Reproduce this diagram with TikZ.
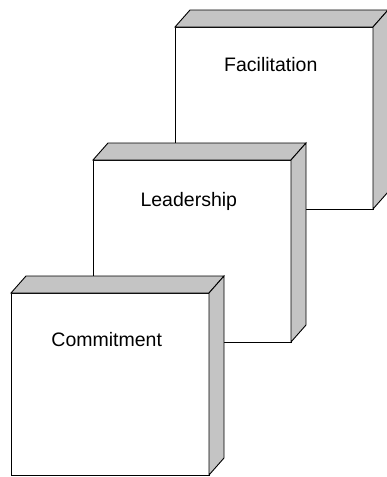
\documentclass[tikz,border=0pt]{standalone}
\usepackage{fontspec}
\setmainfont{Liberation Sans}
\definecolor{sidegray}{RGB}{196,196,196}
\tikzset{
  face/.style={draw=black, line width=0.9pt, line join=miter},
  boxtext/.style={font=\fontsize{19.5}{23}\selectfont, anchor=base, inner sep=0pt},
  cuboid/.pic={
    \draw[face, fill=white] (0,0) rectangle (198,182);
    \draw[face, fill=sidegray] (0,0) -- (15,-17) -- (213,-17) -- (198,0) -- cycle;
    \draw[face, fill=sidegray] (198,0) -- (213,-17) -- (213,165) -- (198,182) -- cycle;
  }
}
\begin{document}
\begin{tikzpicture}[x=1pt,y=-1pt]
\useasboundingbox (0,0) rectangle (386,477);
\pic at (175,27) {cuboid};
\pic at (93,160) {cuboid};
\pic at (11,293) {cuboid};
\node[boxtext] (facil) at (270.8,71.5) {Facilitation};
\node[boxtext] (lead) at (188.8,206) {Leadership};
\node[boxtext] (commit) at (106.7,346.7) {Commitment};
\end{tikzpicture}
\end{document}
